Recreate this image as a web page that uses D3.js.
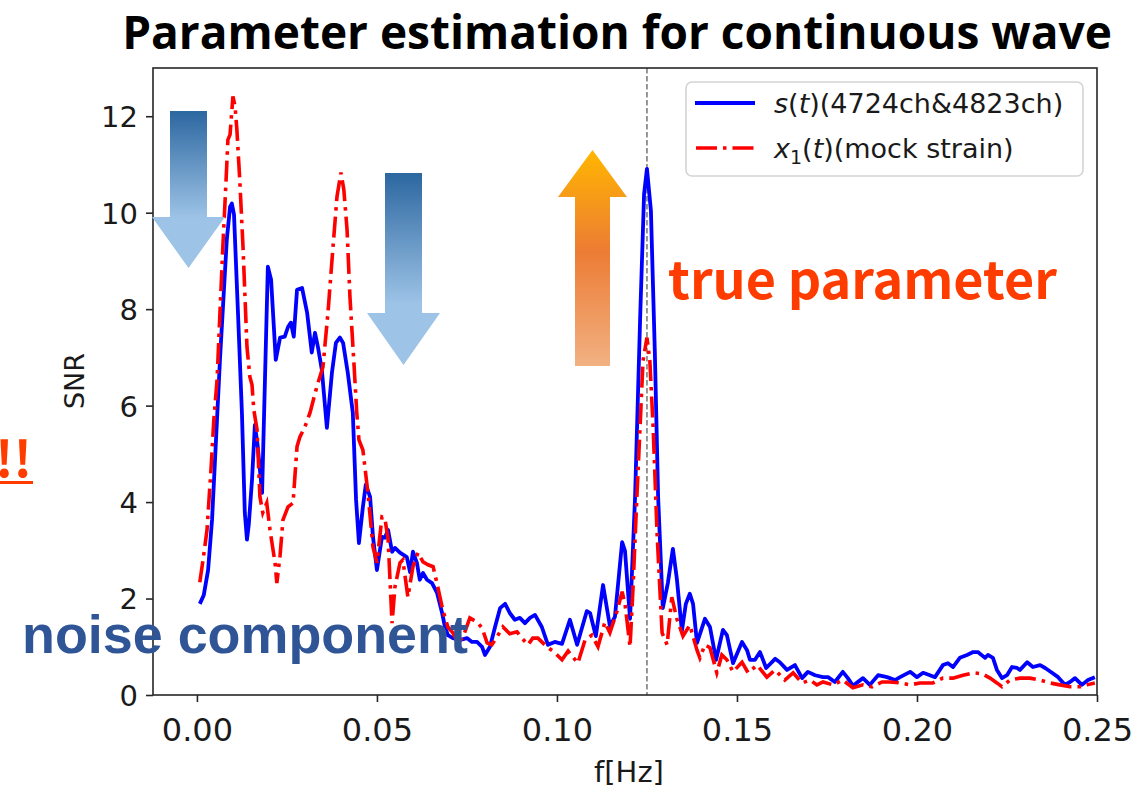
<!DOCTYPE html>
<html>
<head>
<meta charset="utf-8">
<script src="https://cdn.jsdelivr.net/npm/d3@7/dist/d3.min.js"></script>
<style>
body { margin: 0; background: #ffffff; }
</style>
</head>
<body>
<svg id="chart" width="1140" height="792"></svg>
<script>

// s(t) (4724ch & 4823ch)
var aFreqS = [0.0008,0.0019,0.0031,0.0042,0.0053,0.0064,0.0075,0.0083,0.0092,0.0097,0.0103,0.0114,0.0125,0.0133,0.0139,0.0144,0.0153,0.0161,0.0169,0.0181,
	0.0189,0.0197,0.0206,0.0219,0.0231,0.0244,0.0253,0.0261,0.0269,0.0278,0.0292,0.0306,0.0319,0.0328,0.0336,0.0347,0.0361,0.0375,0.0386,0.0397,
	0.0406,0.0419,0.0433,0.0442,0.0450,0.0461,0.0469,0.0481,0.0489,0.0500,0.0514,0.0522,0.0531,0.0542,0.0550,0.0564,0.0583,0.0592,0.0600,0.0611,
	0.0619,0.0628,0.0639,0.0653,0.0667,0.0681,0.0689,0.0697,0.0711,0.0731,0.0750,0.0764,0.0778,0.0792,0.0800,0.0814,0.0828,0.0842,0.0856,0.0869,
	0.0883,0.0897,0.0911,0.0925,0.0939,0.0958,0.0975,0.0994,0.1014,0.1036,0.1056,0.1083,0.1092,0.1108,0.1128,0.1147,0.1161,0.1181,0.1189,0.1203,
	0.1217,0.1231,0.1242,0.1250,0.1261,0.1272,0.1281,0.1294,0.1308,0.1322,0.1333,0.1347,0.1358,0.1369,0.1378,0.1389,0.1411,0.1425,0.1442,0.1461,
	0.1472,0.1489,0.1514,0.1528,0.1536,0.1550,0.1564,0.1581,0.1606,0.1619,0.1639,0.1661,0.1681,0.1697,0.1717,0.1739,0.1753,0.1772,0.1794,0.1808,
	0.1822,0.1850,0.1869,0.1892,0.1917,0.1939,0.1953,0.1981,0.2000,0.2017,0.2036,0.2050,0.2072,0.2086,0.2100,0.2119,0.2139,0.2156,0.2169,0.2189,
	0.2197,0.2211,0.2222,0.2236,0.2250,0.2264,0.2278,0.2286,0.2306,0.2322,0.2342,0.2356,0.2375,0.2392,0.2411,0.2425,0.2439,0.2458,0.2475,0.2494];
var aSnrS = [1.89,2.07,2.59,3.63,5.29,6.95,8.40,9.44,10.12,10.19,9.96,7.93,5.85,3.78,3.22,3.53,4.46,5.60,5.15,4.19,
	6.54,8.88,8.61,6.95,7.41,7.43,7.63,7.72,7.43,8.40,8.44,7.93,7.10,7.51,7.22,6.74,5.54,6.68,7.30,7.41,
	7.30,6.68,5.85,4.05,3.15,3.90,4.36,4.11,3.28,2.59,3.28,3.26,3.42,2.97,3.05,2.95,2.86,2.55,2.97,2.74,
	2.39,2.53,2.39,2.32,2.12,1.70,1.41,1.24,1.18,1.14,1.18,1.10,1.10,1.00,0.83,1.00,1.41,1.80,1.89,1.70,
	1.56,1.60,1.49,1.60,1.66,1.41,1.04,1.10,1.06,1.56,1.04,1.74,1.70,1.22,2.28,1.43,1.62,3.17,2.99,1.58,
	4.11,7.80,10.39,10.91,10.04,7.07,4.11,1.80,2.32,3.03,2.41,1.33,1.89,2.10,1.89,1.08,1.58,1.41,0.73,1.35,
	1.24,0.66,1.10,0.93,0.73,0.73,0.89,0.56,0.75,0.68,0.52,0.62,0.35,0.48,0.41,0.37,0.37,0.27,0.48,0.35,
	0.19,0.35,0.21,0.41,0.37,0.31,0.37,0.48,0.37,0.46,0.41,0.37,0.62,0.66,0.58,0.77,0.83,0.89,0.89,0.77,
	0.83,0.77,0.52,0.35,0.41,0.58,0.56,0.52,0.68,0.58,0.62,0.56,0.46,0.37,0.21,0.27,0.35,0.21,0.31,0.37];

// x1(t) (mock strain)
var aFreqX = [0.0008,0.0017,0.0028,0.0039,0.0047,0.0056,0.0064,0.0072,0.0081,0.0086,0.0092,0.0100,0.0106,0.0111,0.0119,0.0128,0.0139,0.0147,0.0153,0.0158,
	0.0167,0.0175,0.0183,0.0194,0.0203,0.0217,0.0222,0.0231,0.0239,0.0253,0.0267,0.0278,0.0286,0.0300,0.0314,0.0333,0.0350,0.0364,0.0378,0.0389,
	0.0400,0.0408,0.0417,0.0425,0.0436,0.0444,0.0450,0.0461,0.0475,0.0489,0.0500,0.0514,0.0522,0.0531,0.0542,0.0550,0.0564,0.0572,0.0586,0.0600,
	0.0614,0.0628,0.0642,0.0656,0.0669,0.0683,0.0697,0.0711,0.0725,0.0739,0.0758,0.0778,0.0792,0.0806,0.0819,0.0833,0.0850,0.0869,0.0889,0.0903,
	0.0919,0.0933,0.0947,0.0972,0.0989,0.1014,0.1031,0.1058,0.1078,0.1097,0.1114,0.1133,0.1147,0.1167,0.1181,0.1189,0.1203,0.1211,0.1222,0.1231,
	0.1239,0.1250,0.1258,0.1267,0.1278,0.1292,0.1306,0.1319,0.1333,0.1350,0.1369,0.1389,0.1397,0.1411,0.1425,0.1444,0.1458,0.1472,0.1489,0.1514,
	0.1531,0.1556,0.1583,0.1606,0.1633,0.1656,0.1681,0.1703,0.1722,0.1739,0.1767,0.1794,0.1822,0.1850,0.1875,0.1903,0.1925,0.1953,0.1981,0.2008,
	0.2044,0.2072,0.2100,0.2128,0.2156,0.2181,0.2203,0.2222,0.2236,0.2258,0.2286,0.2314,0.2342,0.2369,0.2397,0.2425,0.2453,0.2472,0.2494];
var aSnrX = [2.34,2.80,3.42,4.67,5.71,6.54,7.93,9.29,10.68,11.51,11.62,12.41,12.20,11.72,10.68,9.29,7.22,6.60,6.43,5.91,
	5.50,4.11,3.78,3.98,3.42,2.74,2.32,2.90,3.63,3.90,3.98,5.15,5.35,5.56,5.85,6.39,6.80,7.93,9.29,10.33,
	10.83,10.48,9.65,8.26,6.89,5.85,5.29,5.08,4.19,3.07,2.74,3.69,3.67,3.22,1.49,2.24,2.74,2.80,2.03,2.66,
	2.95,2.76,2.70,2.66,2.24,1.76,1.41,1.29,1.08,1.20,1.60,1.51,1.39,1.08,1.04,1.20,1.41,1.27,1.31,1.18,
	1.04,1.18,1.18,1.00,0.91,0.73,0.91,0.66,1.14,1.24,1.00,1.51,1.29,1.74,2.14,1.89,1.00,2.18,4.11,5.58,
	6.93,7.41,6.93,5.58,3.36,1.29,1.04,2.03,1.58,1.22,1.45,0.93,0.77,1.04,0.98,0.46,0.83,0.73,0.48,0.68,
	0.46,0.62,0.37,0.52,0.31,0.46,0.25,0.31,0.21,0.27,0.21,0.31,0.15,0.21,0.17,0.27,0.27,0.25,0.21,0.25,
	0.25,0.35,0.35,0.41,0.46,0.44,0.35,0.25,0.17,0.31,0.35,0.35,0.31,0.25,0.21,0.17,0.17,0.21,0.25];

var aTicksX = [0.00, 0.05, 0.10, 0.15, 0.20, 0.25];
var aTicksY = [0, 2, 4, 6, 8, 10, 12];
var aDomainX = [-0.0122, 0.25];
var aDomainY = [0, 13];
var fTrueFreq = 0.125;

var strTitle = 'Parameter estimation for continuous wave';
var strLabelX = 'f[Hz]';
var strLabelY = 'SNR';


var sSvg = d3.select('#chart');

var nBorderLeft = 153;
var nBorderTop = 68;
var nChartWidth = 1097 - nBorderLeft;
var nChartHeight = 695 - nBorderTop;

var scaleX = d3.scaleLinear().domain(aDomainX).range([0, nChartWidth]);
var scaleY = d3.scaleLinear().domain(aDomainY).range([nChartHeight, 0]);

var sChart = sSvg.append('g')
	.attr('transform', 'translate(' + nBorderLeft + ',' + nBorderTop + ')');

// clip so nothing spills over the frame
sSvg.append('defs').append('clipPath').attr('id', 'plotclip')
	.append('rect').attr('width', nChartWidth).attr('height', nChartHeight);

// dashed marker at the true frequency
sChart.append('line')
	.attr('x1', scaleX(fTrueFreq)).attr('x2', scaleX(fTrueFreq))
	.attr('y1', 0).attr('y2', nChartHeight)
	.attr('stroke', '#7f7f7f')
	.attr('stroke-width', 1.6)
	.attr('stroke-dasharray', '5.5,2.5');

var line = d3.line()
	.x(function(d) { return scaleX(d[0]); })
	.y(function(d) { return scaleY(d[1]); });

var aSeriesS = d3.zip(aFreqS, aSnrS);
var aSeriesX = d3.zip(aFreqX, aSnrX);

var sLines = sChart.append('g').attr('clip-path', 'url(#plotclip)');

sLines.append('path')
	.datum(aSeriesS)
	.attr('d', line)
	.attr('fill', 'none')
	.attr('stroke', '#0000ff')
	.attr('stroke-width', 3.8)
	.attr('stroke-linejoin', 'round');

sLines.append('path')
	.datum(aSeriesX)
	.attr('d', line)
	.attr('fill', 'none')
	.attr('stroke', '#ff0000')
	.attr('stroke-width', 3.6)
	.attr('stroke-dasharray', '21,6,3.5,6');

// axes
var axisY = d3.axisLeft(scaleY)
	.tickValues(aTicksY)
	.tickSize(7)
	.tickPadding(8)
	.tickFormat(d3.format('d'));

var axisX = d3.axisBottom(scaleX)
	.tickValues(aTicksX)
	.tickSize(7)
	.tickPadding(16)
	.tickFormat(d3.format('.2f'));

var sAxisY = sChart.append('g').call(axisY);
var sAxisX = sChart.append('g')
	.attr('transform', 'translate(0,' + nChartHeight + ')')
	.call(axisX);

[sAxisY, sAxisX].forEach(function(sAxis)
{
	sAxis.select('.domain').remove();
	sAxis.selectAll('line').attr('stroke', '#262626').attr('stroke-width', 1.6);
	sAxis.selectAll('text')
		.attr('fill', '#1a1a1a')
		.style('font-family', '"DejaVu Sans", sans-serif');
});
sAxisY.selectAll('text').style('font-size', '29px').attr('dy', '0.36em');
sAxisX.selectAll('text').style('font-size', '32px').attr('dy', '0.71em');

// frame
sChart.append('rect')
	.attr('width', nChartWidth)
	.attr('height', nChartHeight)
	.attr('fill', 'none')
	.attr('stroke', '#262626')
	.attr('stroke-width', 1.6);

// axis labels
sSvg.append('text')
	.attr('x', nBorderLeft + nChartWidth / 2 + 4)
	.attr('y', 782)
	.attr('text-anchor', 'middle')
	.style('font-family', '"DejaVu Sans", sans-serif')
	.style('font-size', '29px')
	.attr('fill', '#1a1a1a')
	.text(strLabelX);

sSvg.append('text')
	.attr('transform', 'translate(84,381) rotate(-90)')
	.attr('text-anchor', 'middle')
	.style('font-family', '"DejaVu Sans", sans-serif')
	.style('font-size', '27px')
	.attr('fill', '#1a1a1a')
	.text(strLabelY);

// legend
var sLegend = sSvg.append('g').attr('transform', 'translate(686,82)');
sLegend.append('rect')
	.attr('width', 397).attr('height', 94)
	.attr('rx', 6)
	.attr('fill', '#ffffff').attr('fill-opacity', 0.85)
	.attr('stroke', '#d4d4d4').attr('stroke-width', 1.6);

sLegend.append('line')
	.attr('x1', 9).attr('x2', 69).attr('y1', 21).attr('y2', 21)
	.attr('stroke', '#0000ff').attr('stroke-width', 3.8);
sLegend.append('line')
	.attr('x1', 10).attr('x2', 69).attr('y1', 66).attr('y2', 66)
	.attr('stroke', '#ff0000').attr('stroke-width', 3.6)
	.attr('stroke-dasharray', '21,6,3.5,6');

function LegendText(nY)
{
	return sLegend.append('text')
		.attr('x', 88).attr('y', nY)
		.style('font-family', '"DejaVu Sans", sans-serif')
		.style('font-size', '27px')
		.attr('fill', '#1a1a1a');
}
var sLeg1 = LegendText(31);
sLeg1.append('tspan').style('font-style', 'italic').text('s');
sLeg1.append('tspan').text('(');
sLeg1.append('tspan').style('font-style', 'italic').text('t');
sLeg1.append('tspan').text(')(4724ch&4823ch)');

var sLeg2 = LegendText(76);
sLeg2.append('tspan').style('font-style', 'italic').text('x');
sLeg2.append('tspan').attr('dy', 6).style('font-size', '19px').text('1');
sLeg2.append('tspan').attr('dy', -6).text('(');
sLeg2.append('tspan').style('font-style', 'italic').text('t');
sLeg2.append('tspan').text(')(mock strain)');

// slide overlays: gradient arrows and notes
var sDefs = sSvg.select('defs');
function Gradient(strId, aStops)
{
	var sGrad = sDefs.append('linearGradient').attr('id', strId)
		.attr('x1', 0).attr('y1', 0).attr('x2', 0).attr('y2', 1);
	aStops.forEach(function(stop)
	{
		sGrad.append('stop').attr('offset', stop[0]).attr('stop-color', stop[1]);
	});
}
Gradient('gradBlue', [[0, '#2c67a0'], [0.68, '#9dc3e6'], [1, '#9dc3e6']]);
Gradient('gradOrange', [[0, '#ffb600'], [0.47, '#ec7c34'], [1, '#f2b183']]);

// block arrow: shaft from nTop to nHeadY, head from nHeadY to the tip
function ArrowPath(nShaftL, nShaftR, nHeadL, nHeadR, nTop, nHeadY, nTip)
{
	var nMid = (nHeadL + nHeadR) / 2;
	return 'M' + nShaftL + ',' + nTop + 'H' + nShaftR + 'V' + nHeadY + 'H' + nHeadR +
		'L' + nMid + ',' + nTip + 'L' + nHeadL + ',' + nHeadY + 'H' + nShaftL + 'Z';
}

sSvg.append('path')
	.attr('d', ArrowPath(170, 207, 152, 225, 111, 217, 268))
	.attr('fill', 'url(#gradBlue)');
sSvg.append('path')
	.attr('d', ArrowPath(385, 422, 367, 440, 173, 313, 365))
	.attr('fill', 'url(#gradBlue)');
sSvg.append('path')
	.attr('d', ArrowPath(575, 610, 558, 627, 366, 197, 150))
	.attr('fill', 'url(#gradOrange)');

function FitWidth(sText, nWidth)
{
	var nLen = sText.node().getComputedTextLength();
	var fSize = parseFloat(sText.style('font-size'));
	sText.style('font-size', (fSize * nWidth / nLen) + 'px');
}

var sTitle = sSvg.append('text')
	.attr('x', 617).attr('y', 49)
	.attr('text-anchor', 'middle')
	.style('font-family', '"Open Sans", "Noto Sans", sans-serif')
	.style('font-weight', 700)
	.style('font-size', '36px')
	.attr('fill', '#000000')
	.text(strTitle);
FitWidth(sTitle, 990);

var sTrue = sSvg.append('text')
	.attr('x', 668).attr('y', 299)
	.style('font-family', '"Noto Sans CJK JP", "Noto Sans", sans-serif')
	.style('font-weight', 700)
	.style('font-size', '46px')
	.attr('fill', '#ff3c00')
	.text('true parameter');
FitWidth(sTrue, 389);

var sNoise = sSvg.append('text')
	.attr('x', 22).attr('y', 653)
	.style('font-family', '"Liberation Sans", Arial, sans-serif')
	.style('font-weight', 700)
	.style('font-size', '46px')
	.attr('fill', '#2f5597')
	.text('noise component');
FitWidth(sNoise, 446);

sSvg.append('text')
	.attr('x', 32).attr('y', 477)
	.attr('text-anchor', 'end')
	.style('font-family', '"Noto Sans CJK JP", "Noto Sans", sans-serif')
	.style('font-weight', 700)
	.style('font-size', '50px')
	.attr('fill', '#ff3c00')
	.text('!!');
sSvg.append('rect')
	.attr('x', 0).attr('y', 481).attr('width', 33).attr('height', 3)
	.attr('fill', '#ff3c00');

</script>
</body>
</html>
